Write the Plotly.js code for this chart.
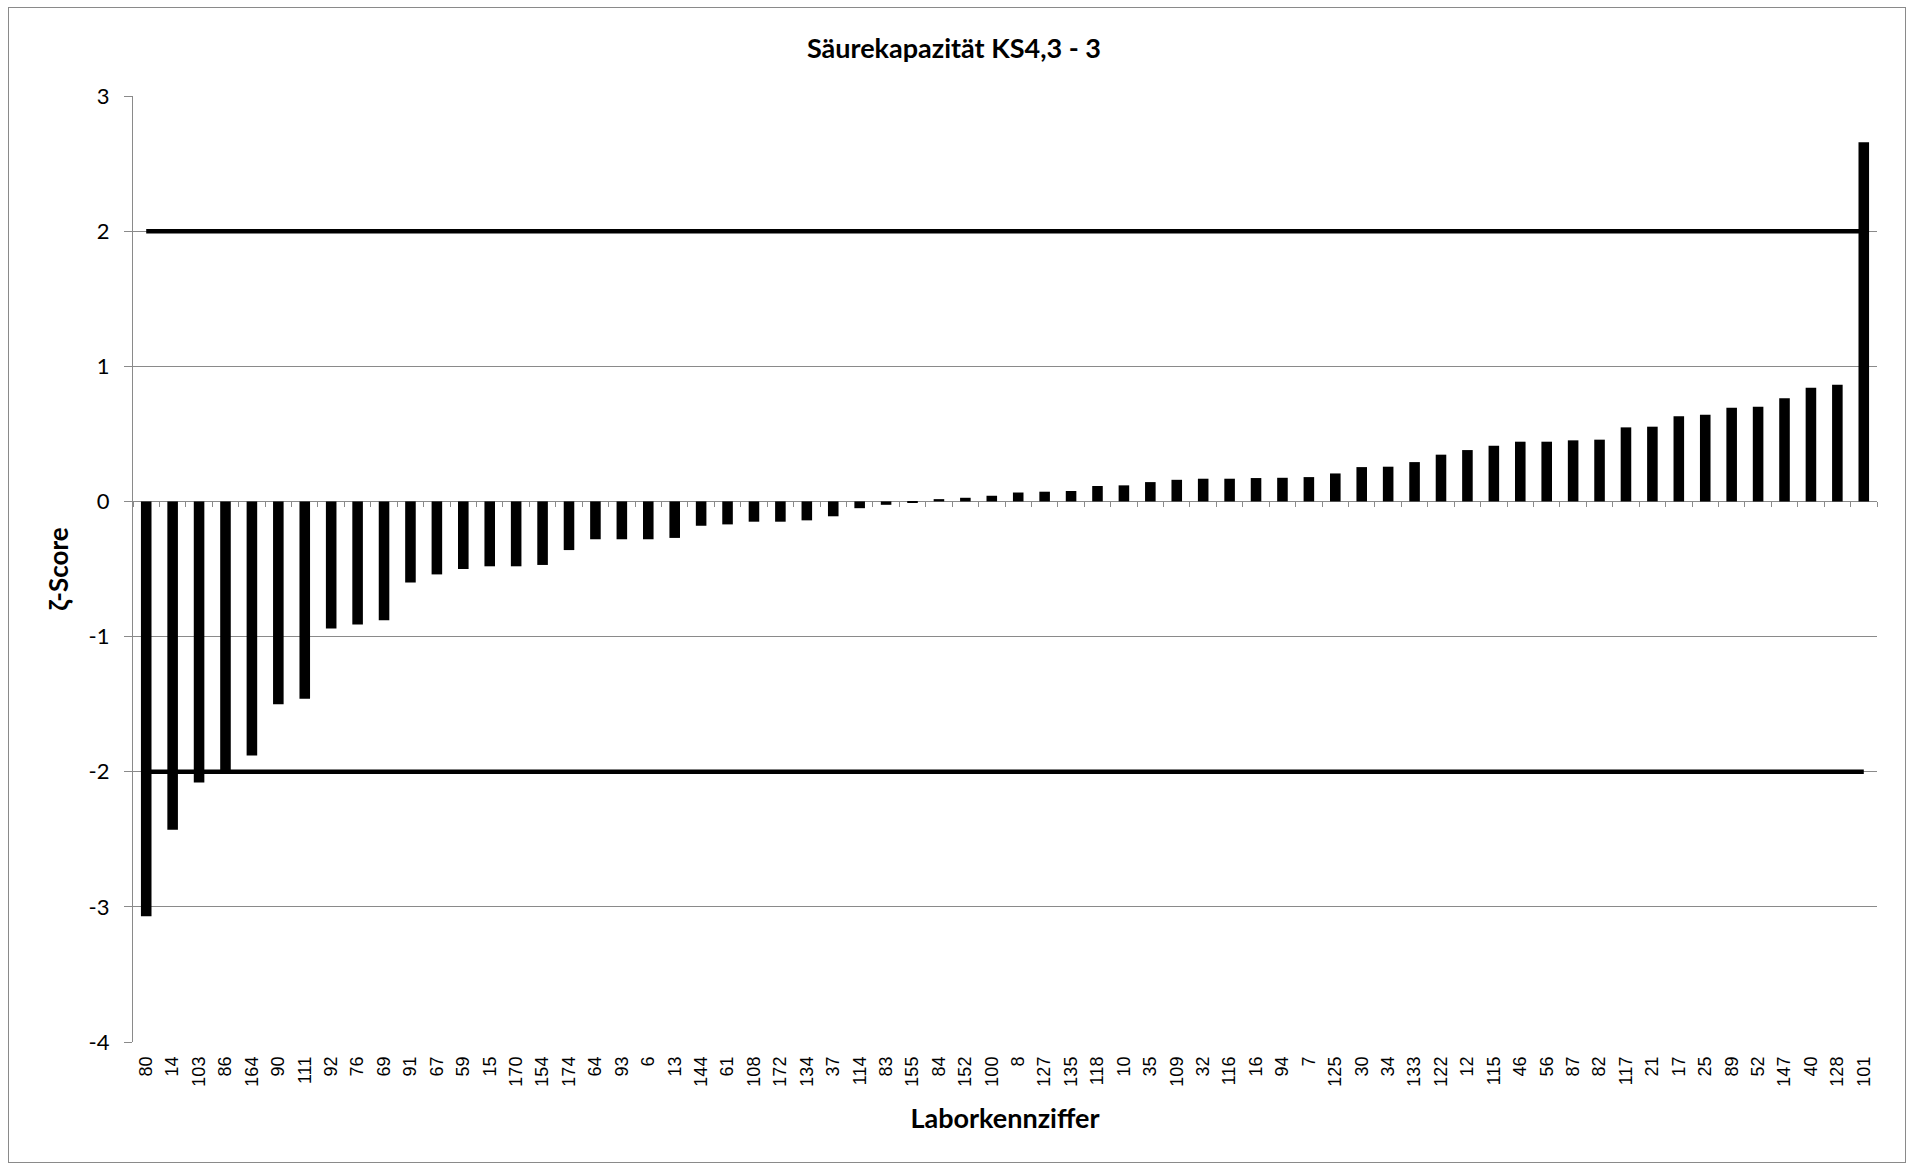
<!DOCTYPE html>
<html>
<head>
<meta charset="utf-8">
<script src="https://cdn.plot.ly/plotly-3.0.1.min.js"></script>
<style>
  html, body { margin: 0; padding: 0; background: #ffffff; }
  #wrap { position: relative; width: 1908px; height: 1164px; }
  #chart { width: 1908px; height: 1164px; }
  #frame { position: absolute; left: 8px; top: 7px; width: 1896px; height: 1154px;
           border: 1px solid #8a8a8a; pointer-events: none; }
</style>
</head>
<body>
<div id="wrap">
  <div id="chart"></div>
  <div id="frame"></div>
</div>
<script>
// Laboratory codes (x-axis categories), in plotted order
const labCodes = ["80","14","103","86","164","90","111","92","76","69",
  "91","67","59","15","170","154","174","64","93","6",
  "13","144","61","108","172","134","37","114","83","155",
  "84","152","100","8","127","135","118","10","35","109",
  "32","116","16","94","7","125","30","34","133","122",
  "12","115","46","56","87","82","117","21","17","25",
  "89","52","147","40","128","101"];

// ζ-scores
const zetaScores = [-3.07,-2.43,-2.08,-2.00,-1.88,-1.50,-1.46,-0.94,-0.91,-0.88,
  -0.60,-0.54,-0.50,-0.48,-0.48,-0.47,-0.36,-0.28,-0.28,-0.28,
  -0.27,-0.18,-0.17,-0.15,-0.15,-0.14,-0.11,-0.05,-0.025,-0.01,
  0.017,0.027,0.042,0.066,0.072,0.077,0.114,0.119,0.143,0.160,
  0.168,0.168,0.173,0.175,0.180,0.207,0.254,0.257,0.291,0.346,
  0.380,0.412,0.442,0.442,0.452,0.457,0.548,0.553,0.630,0.642,
  0.694,0.701,0.763,0.842,0.864,2.657];

// Acceptance limits
const upperLimit = 2;
const lowerLimit = -2;

// Axis tick values
const yTickValues = [-4,-3,-2,-1,0,1,2,3];

const titleText = "Säurekapazität KS4,3 - 3";
const xTitleText = "Laborkennziffer";
const yTitleText = "ζ-Score";

const GRID = "#8a8a8a";
const CAL = "Lato, 'Open Sans', sans-serif";
const ARIAL = "'Liberation Sans', Arial, sans-serif";

const traces = [
  {
    type: "scatter", mode: "lines", xaxis: "x2", yaxis: "y",
    x: labCodes, y: labCodes.map(() => upperLimit),
    line: { color: "#000000", width: 4.5 }, hoverinfo: "skip", showlegend: false
  },
  {
    type: "scatter", mode: "lines", xaxis: "x2", yaxis: "y",
    x: labCodes, y: labCodes.map(() => lowerLimit),
    line: { color: "#000000", width: 4.5 }, hoverinfo: "skip", showlegend: false
  },
  {
    type: "bar", x: labCodes, y: zetaScores, xaxis: "x", yaxis: "y",
    marker: { color: "#000000", line: { width: 0 } },
    hoverinfo: "x+y", showlegend: false
  }
];

const layout = {
  width: 1908, height: 1164,
  paper_bgcolor: "#ffffff", plot_bgcolor: "#ffffff",
  margin: { l: 133, r: 31, t: 96, b: 122, pad: 0 },
  bargap: 0.6,
  showlegend: false,
  title: {
    text: "<b>" + titleText + "</b>",
    font: { family: CAL, size: 27, color: "#000000" },
    x: 0.5, xref: "container", xanchor: "center",
    y: 1 - 49 / 1164, yref: "container", yanchor: "middle"
  },
  xaxis: {
    type: "category", categoryorder: "array", categoryarray: labCodes,
    range: [-0.5, labCodes.length - 0.5],
    tickangle: -90, ticks: "", showline: false, showgrid: false, zeroline: false,
    tickfont: { family: ARIAL, size: 18, color: "#000000" },
    ticklabelstandoff: 10,
    automargin: false,
    title: { text: "<b>" + xTitleText + "</b>", font: { family: CAL, size: 27, color: "#000000" }, standoff: 23 }
  },
  xaxis2: {
    type: "category", categoryorder: "array", categoryarray: labCodes,
    overlaying: "x", matches: "x", anchor: "free", position: 4 / 7, side: "bottom",
    ticks: "outside", tickson: "boundaries", ticklen: 5, tickwidth: 1.3, tickcolor: GRID,
    showticklabels: false, showline: false, showgrid: false, zeroline: false
  },
  yaxis: {
    range: [-4, 3], tickvals: yTickValues, ticktext: yTickValues.map(String),
    showgrid: true, gridcolor: GRID, gridwidth: 1.4,
    zeroline: true, zerolinecolor: GRID, zerolinewidth: 1.4,
    showline: true, linecolor: GRID, linewidth: 1.4,
    ticks: "outside", ticklen: 8, tickcolor: GRID, tickwidth: 1.4,
    tickfont: { family: CAL, size: 22, color: "#000000" },
    ticklabelstandoff: 10,
    automargin: false,
    title: { text: "<b>" + yTitleText + "</b>", font: { family: CAL, size: 26, color: "#000000" }, standoff: 12 }
  }
};

Plotly.newPlot("chart", traces, layout, { displayModeBar: false, responsive: false });
</script>
</body>
</html>
